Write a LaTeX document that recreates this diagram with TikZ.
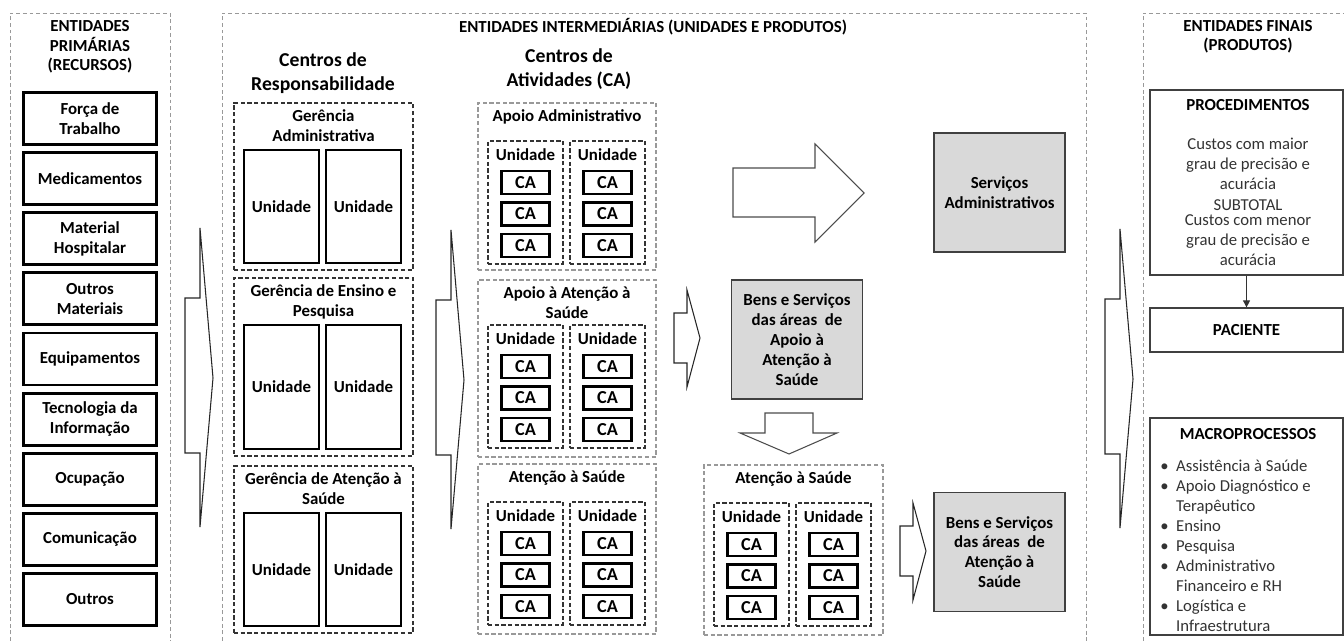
\documentclass[tikz,border=0pt]{standalone}
\usepackage{fontspec}
\setmainfont{Carlito}
\usetikzlibrary{positioning,arrows.meta}

\newcommand{\itm}{\makebox[9pt][l]{\textbullet}}
\newcommand{\noitm}{\hspace*{9pt}}

\begin{document}
\begin{tikzpicture}[x=0.02cm, y=-0.02cm,
  every node/.style={font=\fontsize{9.6}{11.3}\selectfont, inner sep=0pt, align=center},
  ttl/.style={font=\fontsize{9.6}{11}\selectfont\bfseries},
  hdr/.style={font=\fontsize{11.2}{13.6}\selectfont\bfseries},
  lbl/.style={font=\fontsize{9.6}{11.3}\selectfont\bfseries},
  txt/.style={font=\fontsize{9.5}{11.3}\selectfont, text=black!80},
  panel/.style={draw=gray!80, dash pattern=on 2.2pt off 1.6pt, line width=0.5pt},
  grp/.style={draw=black!80, dash pattern=on 2.4pt off 1.4pt, line width=0.9pt},
  cagrp/.style={draw=gray!80, dash pattern=on 2.4pt off 1.4pt, line width=0.7pt},
  res/.style={draw, line width=1.6pt, minimum width=2.66cm, minimum height=1.04cm, lbl},
  uni/.style={draw, line width=1.6pt, minimum width=1.5cm, lbl},
  unibx/.style={draw=black!80, dash pattern=on 2.4pt off 1.4pt, line width=0.9pt, minimum width=1.5cm, minimum height=2.46cm},
  ca/.style={draw, line width=1.6pt, minimum width=0.96cm, minimum height=0.46cm, lbl, font=\fontsize{10.4}{12}\selectfont\bfseries},
  prod/.style={draw=black!75, fill=gray!30, line width=0.8pt, minimum width=2.62cm, minimum height=2.38cm, lbl},
  fin/.style={draw=black!75, line width=0.7pt, minimum width=3.86cm},
  chev/.style={draw=black!85, fill=white, line width=0.6pt},
  blk/.style={draw=gray!60!black, fill=white, line width=0.6pt},
  unica/.pic={
    \node[unibx] (-box) at (37.5,61.5) {};
    \node[lbl] (-lbl) at (37.5,14) {Unidade};
    \foreach \k in {0,1,2} {\node[ca] (-ca\k) at (37.5,{41.5+31.5*\k}) {CA};}
  }
]
\useasboundingbox (0,0) rectangle (1344,641);

% paineis
\draw[panel] (10,641) -- (10,13) -- (170,13) -- (170,641);
\draw[panel] (222,641) -- (222,13) -- (1086,13) -- (1086,641);
\draw[panel] (1143,641) -- (1143,13) -- (1344,13);
\node[ttl] (tprim) at (90,47) {ENTIDADES\\PRIMÁRIAS\\(RECURSOS)};
\node[ttl] (tinter) at (653,27) {ENTIDADES INTERMEDIÁRIAS (UNIDADES E PRODUTOS)};
\node[ttl] (tfinal) at (1248,37) {ENTIDADES FINAIS\\(PRODUTOS)};

% recursos
\foreach \txt [count=\i] in {{Força de\\Trabalho}, Medicamentos, {Material\\Hospitalar}, {Outros\\Materiais}, Equipamentos, {Tecnologia da\\Informação}, Ocupação, Comunicação, Outros}
  {\node[res] (r\i) at (90,{58.4+60.125*\i}) {\txt};}

% setas
\foreach \sx/\sy in {0/0, 251/2, 920/1}
  {\draw[chev, shift={(\sx,\sy)}] (185,298) -- (200,298) -- (200,228) -- (213,378) -- (200,527) -- (200,453) -- (185,453) -- cycle;}
\foreach \sx/\sy in {674/290, 900/503}
  {\draw[chev, shift={(\sx,\sy)}] (0,23) -- (13,23) -- (13,0) -- (26,48) -- (13,97) -- (13,73) -- (0,73) -- cycle;}
\draw[blk] (733,168) -- (815,168) -- (815,144) -- (864,193) -- (815,242) -- (815,217) -- (733,217) -- cycle;
\draw[blk] (765,413) -- (813,413) -- (813,433) -- (837,433) -- (789,454) -- (740,433) -- (765,433) -- cycle;

% centros de responsabilidade
\node[hdr] (hresp) at (323,73) {Centros de\\Responsabilidade};
\foreach \n/\ya/\yb/\txt in {1/103/270/{Gerência\\Administrativa}, 2/278/456/{Gerência de Ensino e\\Pesquisa}, 3/466/633/{Gerência de Atenção à\\Saúde}} {
  \node[grp, minimum width=3.58cm, minimum height={(\yb-\ya)*0.02cm}] (g\n) at (323.5,{(\ya+\yb)/2}) {};
  \node[lbl, below=4pt of g\n.north] (gt\n) {\txt};
  \node[uni, minimum height={(\yb-\ya-54)*0.02cm}] (ga\n) at (281.5,{(\ya+\yb+40)/2}) {Unidade};
  \node[uni, minimum height={(\yb-\ya-54)*0.02cm}] (gb\n) at (363.5,{(\ya+\yb+40)/2}) {Unidade};
}

% centros de atividades
\node[hdr] (hativ) at (569,69) {Centros de\\Atividades (CA)};
\foreach \n/\ya/\yb/\yi/\txt in {1/103/270/141/{Apoio Administrativo}, 2/280/457/325/{Apoio à Atenção à\\Saúde}, 3/464/634/502/{Atenção à Saúde}} {
  \node[cagrp, minimum width=3.56cm, minimum height={(\yb-\ya)*0.02cm}] (c\n) at (567,{(\ya+\yb)/2}) {};
  \node[lbl, below=4pt of c\n.north] (ct\n) {\txt};
  \pic (cal\n) at (488,\yi) {unica};
  \pic (car\n) at (570,\yi) {unica};
}
\node[cagrp, minimum width=3.58cm, minimum height=3.4cm] (c4) at (793.5,550) {};
\node[lbl, below=4pt of c4.north] (ct4) {Atenção à Saúde};
\pic (cal4) at (714,503) {unica};
\pic (car4) at (796,503) {unica};

% produtos intermediarios
\node[prod] (psadm) at (999.5,192.5) {Serviços\\Administrativos};
\node[prod] (pbapoio) at (797,339.5) {Bens e Serviços\\das áreas~ de\\Apoio à\\Atenção à\\Saúde};
\node[prod] (pbaten) at (999.5,552) {Bens e Serviços\\das áreas~ de\\Atenção à\\Saúde};

% entidades finais
\node[fin, minimum height=3.7cm] (proc) at (1246.5,182.5) {};
\node[lbl] (proct) at (1248,105) {PROCEDIMENTOS};
\node[txt] (proc1) at (1248,163.5) {Custos com maior\\grau de precisão e\\acurácia};
\node[txt] (subt) at (1248,205) {SUBTOTAL};
\node[txt] (proc2) at (1248,240) {Custos com menor\\grau de precisão e\\acurácia};
\node[fin, minimum height=0.88cm, lbl] (pac) at (1246.5,330) {PACIENTE};
\draw[-{Triangle[length=4pt,width=4pt]}, black!80, line width=0.5pt] (proc.south) -- (pac.north);
\node[fin, minimum height=4.34cm] (macro) at (1246.5,526.5) {};
\node[lbl] (macrot) at (1248,434) {MACROPROCESSOS};
\foreach \txt [count=\i] in {\itm Assistência à Saúde, \itm Apoio Diagnóstico e, \noitm Terapêutico, \itm Ensino, \itm Pesquisa, \itm Administrativo, \noitm Financeiro e RH, \itm Logística e, \noitm Infraestrutura}
  {\node[txt, anchor=base west] (m\i) at (1160,{451+20*\i}) {\txt};}
\end{tikzpicture}
\end{document}
